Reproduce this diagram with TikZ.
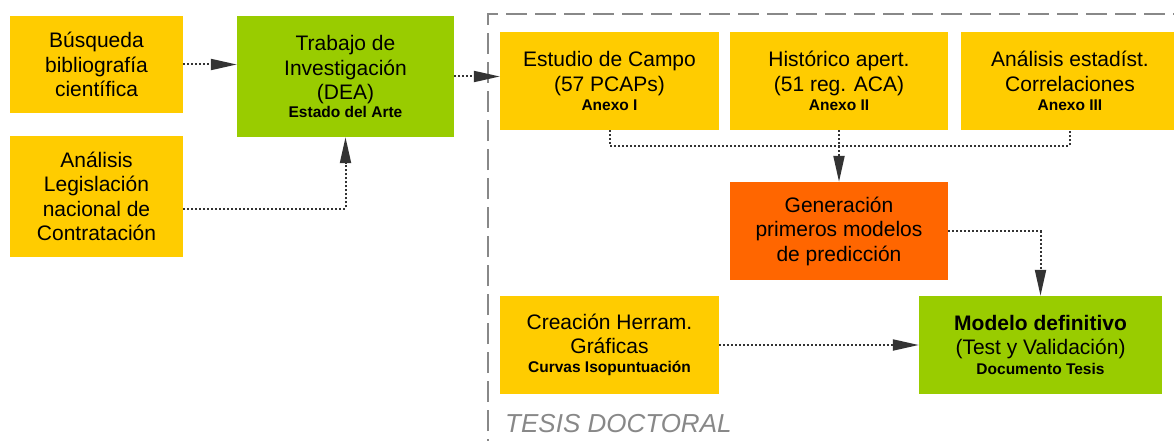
\documentclass[tikz,border=0pt]{standalone}
\usepackage{fontspec}
\setmainfont{Liberation Sans}
\usetikzlibrary{arrows.meta}
\definecolor{cYel}{HTML}{FFCC00}
\definecolor{cGrn}{HTML}{99CC00}
\definecolor{cOrg}{HTML}{FF6600}
\definecolor{cLine}{HTML}{333333}
\definecolor{cFrame}{HTML}{888888}
\newcommand{\subt}[1]{{\fontsize{15.5}{18}\selectfont\bfseries #1}}
\begin{document}
\begin{tikzpicture}[x=1pt,y=-1pt,
  box/.style={draw=none, inner sep=0pt, align=center, text=black,
    font=\fontsize{21}{24.5}\selectfont},
  ybox/.style={box, fill=cYel},
  gbox/.style={box, fill=cGrn},
  obox/.style={box, fill=cOrg},
  conn/.style={draw=cLine, line width=2pt, dash pattern=on 2pt off 2pt},
  arr/.style={conn, -{Triangle[length=26pt,width=11pt]}},
  frame/.style={draw=cFrame, line width=2.7pt, dash pattern=on 21pt off 8pt},
  title/.style={text=cFrame, font=\fontsize{26}{30}\selectfont\itshape, inner sep=0pt}
]
\useasboundingbox (0,0) rectangle (1174,441);
\clip (0,0) rectangle (1174,441);

% dashed frame
\draw[frame] (488,460) -- (488,14) -- (1190,14);

% left boxes
\node[ybox, minimum width=173pt, minimum height=97pt] (busq) at (96.5,64.5)
  {Búsqueda\\bibliografía\\científica};
\node[ybox, minimum width=173pt, minimum height=121pt] (legis) at (96.5,196.5)
  {Análisis\\Legislación\\nacional de\\Contratación};
\node[gbox, minimum width=217pt, minimum height=121pt] (trab) at (345.5,76.5)
  {Trabajo de\\Investigación\\(DEA)\\[-6.5pt]\subt{Estado del Arte}};

% thesis boxes
\node[ybox, minimum width=219pt, minimum height=98pt] (estudio) at (609.5,81)
  {Estudio de Campo\\(57 PCAPs)\\[-5.5pt]\subt{Anexo I}};
\node[ybox, minimum width=218pt, minimum height=98pt] (hist) at (839,81)
  {Histórico apert.\\(51 reg. ACA)\\[-5.5pt]\subt{Anexo II}};
\node[ybox, minimum width=218pt, minimum height=98pt] (anal) at (1070,81)
  {Análisis estadíst.\\Correlaciones\\[-5.5pt]\subt{Anexo III}};
\node[obox, minimum width=218pt, minimum height=98pt] (gen) at (839,231)
  {Generación\\primeros modelos\\de predicción};
\node[ybox, minimum width=219pt, minimum height=98pt] (crea) at (609.5,345)
  {Creación Herram.\\Gráficas\\[-5.5pt]\subt{Curvas Isopuntuación}};
\node[gbox, minimum width=243pt, minimum height=98pt] (modelo) at (1040.5,345)
  {{\bfseries Modelo definitivo}\\(Test y Validación)\\[-4.5pt]\subt{Documento Tesis}};

\node[title, anchor=base west] (tesis) at (505,432) {TESIS DOCTORAL};

% connectors
\draw[arr] (busq.east) -- (busq.east -| trab.west);
\draw[arr] ([yshift=-12.5pt]legis.east) -| (trab.south);
\draw[arr] (trab.east) -- (trab.east -| estudio.west);
\coordinate (junc) at (839,145.5);
\draw[conn] (estudio.south) |- (junc -| anal.south) -- (anal.south);
\draw[arr] (hist.south) -- (gen.north);
\draw[arr] (gen.east) -| (modelo.north);
\draw[arr] (crea.east) -- (crea.east -| modelo.west);
\end{tikzpicture}
\end{document}
